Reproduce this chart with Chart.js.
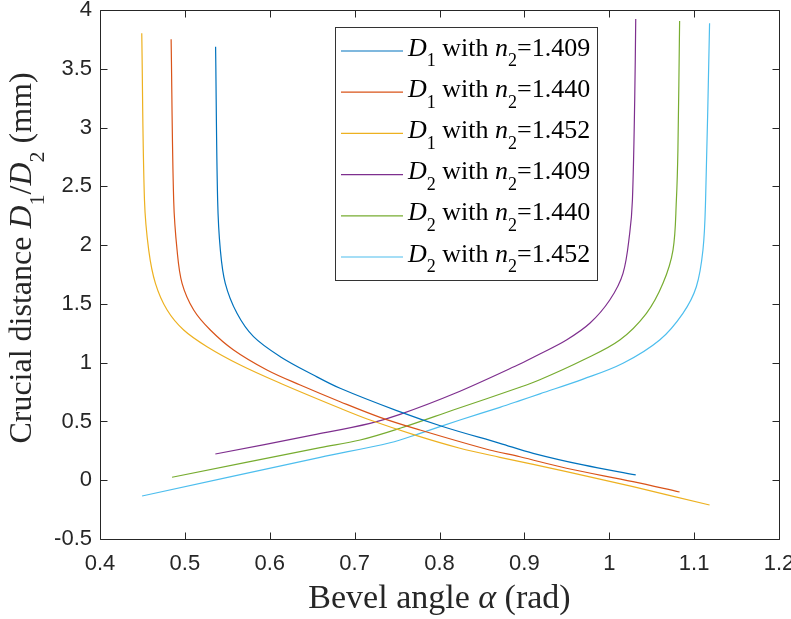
<!DOCTYPE html>
<html>
<head>
<meta charset="utf-8">
<script src="https://cdn.jsdelivr.net/npm/chart.js@4.4.1/dist/chart.umd.min.js"></script>
<style>
  html, body { margin: 0; padding: 0; background: #fff; }
  #wrap { width: 791px; height: 619px; }
</style>
</head>
<body>
<div id="wrap"><canvas id="graph" width="791" height="619"></canvas></div>
<script>
'use strict';

// 読み取った値 (alpha [rad], D [mm])
const xD1a = [0.5362, 0.5386, 0.5418, 0.5476, 0.5614, 0.5809, 0.6124, 0.6515, 0.6829, 0.7496, 0.8045, 0.8712, 0.9104, 0.9692, 1.0312];
const yD1a = [3.688, 2.384, 1.958, 1.675, 1.420, 1.221, 1.051, 0.895, 0.782, 0.592, 0.455, 0.314, 0.229, 0.130, 0.045];

const xD1b = [0.4838, 0.4868, 0.4908, 0.4967, 0.5104, 0.5300, 0.5574, 0.5967, 0.6359, 0.6829, 0.7300, 0.7771, 0.8590, 0.8947, 0.9496, 1.0280, 1.0829];
const yD1b = [3.751, 2.384, 1.958, 1.675, 1.448, 1.278, 1.108, 0.938, 0.810, 0.668, 0.535, 0.427, 0.257, 0.200, 0.102, -0.012, -0.100];

const xD1c = [0.4492, 0.4524, 0.4574, 0.4653, 0.4791, 0.4986, 0.5261, 0.5653, 0.6124, 0.6829, 0.7182, 0.7732, 0.8241, 0.8712, 0.9496, 1.0280, 1.1182];
const yD1c = [3.802, 2.384, 1.958, 1.675, 1.448, 1.278, 1.136, 0.980, 0.825, 0.612, 0.512, 0.379, 0.272, 0.195, 0.073, -0.055, -0.211];

const xD2a = [0.5359, 0.6515, 0.7182, 0.7535, 0.8162, 0.8947, 0.9182, 0.9496, 0.9771, 1.0006, 1.0162, 1.0241, 1.0273, 1.0300, 1.0312];
const yD2a = [0.223, 0.385, 0.484, 0.560, 0.733, 0.989, 1.074, 1.193, 1.335, 1.533, 1.760, 2.101, 2.384, 3.234, 3.923];

const xD2b = [0.4849, 0.6594, 0.7065, 0.7535, 0.8162, 0.8947, 0.9182, 0.9692, 1.0124, 1.0438, 1.0633, 1.0751, 1.0791, 1.0809, 1.0829];
const yD2b = [0.025, 0.277, 0.342, 0.442, 0.597, 0.791, 0.855, 1.023, 1.193, 1.420, 1.675, 1.958, 2.384, 2.809, 3.906];

const xD2c = [0.4496, 0.6594, 0.7418, 0.7771, 0.8241, 0.8712, 0.8947, 0.9182, 0.9692, 1.0162, 1.0594, 1.0868, 1.1026, 1.1104, 1.1135, 1.1182];
const yD2c = [-0.134, 0.195, 0.319, 0.399, 0.512, 0.620, 0.677, 0.735, 0.860, 0.995, 1.193, 1.420, 1.646, 1.958, 2.384, 3.887];

const seriesD = ['1', '1', '1', '2', '2', '2'];
const seriesN = ['1.409', '1.440', '1.452', '1.409', '1.440', '1.452'];
const seriesX = [xD1a, xD1b, xD1c, xD2a, xD2b, xD2c];
const seriesY = [yD1a, yD1b, yD1c, yD2a, yD2b, yD2c];
const colors = ['#0072BD', '#D95319', '#EDB120', '#7E2F8E', '#77AC30', '#4DBEEE'];

const xMin = 0.4, xMax = 1.2, xStep = 0.1;
const yMin = -0.5, yMax = 4, yStep = 0.5;

const SERIF = '"Liberation Serif", "Times New Roman", serif';
const SANS = '"Liberation Sans Narrow", "Liberation Sans", Arial, sans-serif';
const AXIS_COLOR = '#262626';

// 文字列を斜体・下付きで描く
function drawRich(ctx, parts, x, y, size, align) {
    let subSize = Math.round(size * 0.68);
    let widths = parts.map(function(p) {
        ctx.font = (p.i ? 'italic ' : '') + (p.sub ? subSize : size) + 'px ' + SERIF;
        return ctx.measureText(p.t).width;
    });
    let total = widths.reduce(function(a, b) { return a + b; }, 0);
    let cx = align === 'center' ? x - total / 2 : x;
    ctx.textBaseline = 'alphabetic';
    ctx.textAlign = 'left';
    for (let k = 0; k < parts.length; k++) {
        let p = parts[k];
        ctx.font = (p.i ? 'italic ' : '') + (p.sub ? subSize : size) + 'px ' + SERIF;
        ctx.fillText(p.t, cx, p.sub ? y + size * 0.42 : y);
        cx += widths[k];
    }
}

function legendParts(k) {
    return [
        {t: 'D', i: true}, {t: seriesD[k], sub: true}, {t: ' with '},
        {t: 'n', i: true}, {t: '2', sub: true}, {t: '=' + seriesN[k]}
    ];
}

const boxPlugin = {
    id: 'matlabBox',
    afterDraw(chart) {
        const ctx = chart.ctx;
        const a = chart.chartArea;
        const xs = chart.scales.x, ys = chart.scales.y;
        let L = Math.round(a.left) + 0.5, R = Math.round(a.right) + 0.5;
        let T = Math.round(a.top) + 0.5, B = Math.round(a.bottom) + 0.5;
        ctx.save();
        ctx.strokeStyle = AXIS_COLOR;
        ctx.lineWidth = 1;
        ctx.beginPath();
        ctx.rect(L, T, R - L, B - T);
        // 内向きの目盛り
        const tl = 7;
        xs.ticks.forEach(function(t) {
            let px = Math.round(xs.getPixelForValue(t.value)) + 0.5;
            ctx.moveTo(px, B); ctx.lineTo(px, B - tl);
            ctx.moveTo(px, T); ctx.lineTo(px, T + tl);
        });
        ys.ticks.forEach(function(t) {
            let py = Math.round(ys.getPixelForValue(t.value)) + 0.5;
            ctx.moveTo(L, py); ctx.lineTo(L + tl, py);
            ctx.moveTo(R, py); ctx.lineTo(R - tl, py);
        });
        ctx.stroke();

        // 凡例
        const lx = 335.5, ly = 27.5, lw = 262, lh = 253;
        ctx.fillStyle = '#fff';
        ctx.fillRect(lx, ly, lw, lh);
        ctx.strokeStyle = '#333';
        ctx.strokeRect(lx, ly, lw, lh);
        for (let k = 0; k < seriesN.length; k++) {
            let ry = 51 + k * 41.2;
            ctx.strokeStyle = colors[k];
            ctx.lineWidth = 1.2;
            ctx.beginPath();
            ctx.moveTo(341, ry); ctx.lineTo(403, ry);
            ctx.stroke();
            ctx.fillStyle = '#000';
            drawRich(ctx, legendParts(k), 408, ry + 4.5, 26, 'left');
        }

        // 軸ラベル
        ctx.fillStyle = '#262626';
        drawRich(ctx, [{t: 'Bevel angle '}, {t: '\u03b1', i: true}, {t: ' (rad)'}],
            (a.left + a.right) / 2, 608, 34, 'center');
        ctx.translate(31, 258);
        ctx.rotate(-Math.PI / 2);
        drawRich(ctx, [{t: 'Crucial distance '}, {t: 'D', i: true}, {t: '1', sub: true},
            {t: '/'}, {t: 'D', i: true}, {t: '2', sub: true}, {t: ' (mm)'}], 0, 0, 32, 'center');
        ctx.restore();
    }
};

function fmt(v) {
    return String(Number(v.toFixed(2)));
}

let datasets = [];
for (let k = 0; k < seriesX.length; k++) {
    datasets.push({
        label: 'D' + seriesD[k] + ' with n2=' + seriesN[k],
        data: seriesX[k].map(function(x, i) { return {x: x, y: seriesY[k][i]}; }),
        borderColor: colors[k],
        backgroundColor: colors[k],
        borderWidth: 1.2,
        pointRadius: 0,
        fill: false,
        tension: 0.35
    });
}

let chart = new Chart(document.querySelector('#graph').getContext('2d'), {
    type: 'line',
    data: { datasets: datasets },
    options: {
        responsive: false,
        animation: false,
        layout: { padding: 0 },
        plugins: { legend: { display: false }, tooltip: { enabled: false } },
        scales: {
            x: {
                type: 'linear', min: xMin, max: xMax,
                grid: { display: false, drawTicks: false },
                border: { display: false },
                ticks: { stepSize: xStep, color: AXIS_COLOR, padding: 12,
                    font: { family: SANS, size: 22 }, maxRotation: 0,
                    callback: function(v) { return fmt(v); } },
                afterFit: function(s) {
                    s.height = 80;
                    s.paddingLeft = 0;
                    s.paddingRight = 12;
                }
            },
            y: {
                type: 'linear', min: yMin, max: yMax,
                grid: { display: false, drawTicks: false },
                border: { display: false },
                ticks: { stepSize: yStep, color: AXIS_COLOR, padding: 8,
                    font: { family: SANS, size: 22 },
                    callback: function(v) { return fmt(v); } },
                afterFit: function(s) {
                    s.width = 100;
                    s.paddingTop = 10;
                    s.paddingBottom = 0;
                }
            }
        }
    },
    plugins: [boxPlugin]
});
</script>
</body>
</html>
